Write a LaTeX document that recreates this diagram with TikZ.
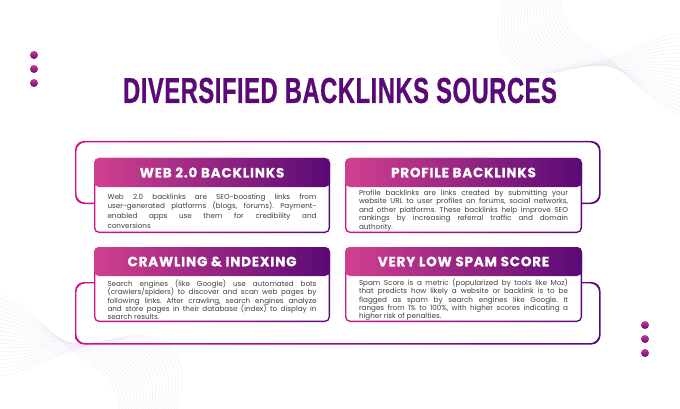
\documentclass[tikz,border=0pt]{standalone}
\usepackage{fontspec}
\usepackage{xcolor}
\usetikzlibrary{calc, positioning}
\setmainfont{Poppins}
\newfontfamily\titlefont[FakeStretch=0.66, FakeBold=0.7, LetterSpace=1.5]{Liberation Sans}
\newfontfamily\headfont[LetterSpace=6, FakeBold=0.3]{Poppins}
\definecolor{brandpink}{HTML}{D4108C}
\definecolor{softpink}{HTML}{D2408F}
\definecolor{brandpurple}{HTML}{5A0A76}
\definecolor{bodygray}{HTML}{3F3F3F}
\definecolor{wavegray}{HTML}{EDE6F2}
\newcommand{\cardfont}[1]{\fontsize{7.2}{#1}\selectfont\lineskiplimit=-5pt\relax}
\tikzset{
    cardbody/.style={rounded corners=5pt, left color=brandpink, right color=brandpurple, minimum height=75pt, anchor=north, inner sep=0pt, outer sep=0pt},
    cardinner/.style={rounded corners=4pt, fill=white, inner sep=0pt, outer sep=0pt},
    cardhead/.style={rounded corners=5pt, left color=softpink, right color=brandpurple, minimum height=29pt, anchor=north, inner sep=0pt, outer sep=0pt, text=white, font=\headfont\bfseries\fontsize{13.5}{15}\selectfont},
    cardtext/.style={text width=209pt, align=justify, inner sep=0pt, text=bodygray},
    dotmark/.style={circle, minimum size=8pt, inner sep=0pt, top color=softpink!90!brandpurple, bottom color=brandpurple!90!brandpink},
    waveline/.style={draw=wavegray, line width=0.3pt}
}
\newcommand{\wavebundle}{
    \foreach \k in {0,0.05,...,1.01} {
        \draw[waveline] ({560-57*\k},0)
            .. controls ({566-80*\k},{28+25*\k}) and ({575-60*\k},{36+38*\k}) .. ({600-55*\k},{52+22*\k})
            .. controls ({625-5*\k},{72-10*\k}) and ({650-5*\k},{100-62*\k}) .. (680,{115-82*\k});
    }
}
\frenchspacing
\begin{document}
\begin{tikzpicture}[x=1pt, y=-1pt]
    \useasboundingbox (0,0) rectangle (680,409);
    \wavebundle
    \begin{scope}[shift={(680,409)}, xscale=-1, yscale=-1]
        \wavebundle
    \end{scope}
    \begin{scope}[even odd rule]
        \clip (0,0) rectangle (680,409) (94,150) rectangle (582,335);
        \foreach \ya/\yb in {141/204,282/344.5} {
            \shade[rounded corners=9pt, left color=brandpink, right color=brandpurple]
                (75,\ya) rectangle (600.5,\yb) (76.4,\ya+1.4) rectangle (599.1,\yb-1.4);
        }
    \end{scope}
    \foreach \nm/\cx/\bw/\cy/\ty/\lead/\ttl/\txt in {
        web/212/236/158/211/9.6/{WEB 2.0 BACKLINKS}/{Web 2.0 backlinks are SEO-boosting links from\linebreak user-generated platforms (blogs, forums). Payment-\linebreak enabled apps use them for credibility and\linebreak conversions},
        profile/463.5/237/158/210.3/8.5/{PROFILE BACKLINKS}/{Profile backlinks are links created by submitting your\linebreak website URL to user profiles on forums, social networks,\linebreak and other platforms. These backlinks help improve SEO\linebreak rankings by increasing referral traffic and domain\linebreak authority.},
        crawl/212/236/247/299.7/8.4/{CRAWLING \& INDEXING}/{Search engines (like Google) use automated bots\linebreak (crawlers/spiders) to discover and scan web pages by\linebreak following links. After crawling, search engines analyze\linebreak and store pages in their database (index) to display in\linebreak search results.},
        spam/463.5/237/247/299.7/8.4/{VERY LOW SPAM SCORE}/{Spam Score is a metric (popularized by tools like Moz)\linebreak that predicts how likely a website or backlink is to be\linebreak flagged as spam by search engines like Google. It\linebreak ranges from 1\% to 100\%, with higher scores indicating a\linebreak higher risk of penalties.}} {
        \node[cardbody, minimum width=\bw pt] (body\nm) at (\cx,\cy) {};
        \node[cardinner, minimum width=\bw pt-2.8pt, minimum height=72.2pt] (inner\nm) at (body\nm.center) {};
        \node[cardhead, minimum width=\bw pt] (head\nm) at (\cx,\cy) {\ttl};
        \node[cardtext, font=\cardfont{\lead}] (text\nm) at (\cx,\ty) {\txt};
    }
    \node[font=\titlefont\bfseries\fontsize{36}{40}\selectfont, text=brandpurple, inner sep=0pt] (title) at (340,90.5) {DIVERSIFIED BACKLINKS SOURCES};
    \foreach \i/\y in {0/55,1/69,2/83} {
        \node[dotmark] (dotleft\i) at (34,\y) {};
    }
    \foreach \i/\y in {0/325,1/339,2/353} {
        \node[dotmark] (dotright\i) at (645,\y) {};
    }
\end{tikzpicture}
\end{document}
